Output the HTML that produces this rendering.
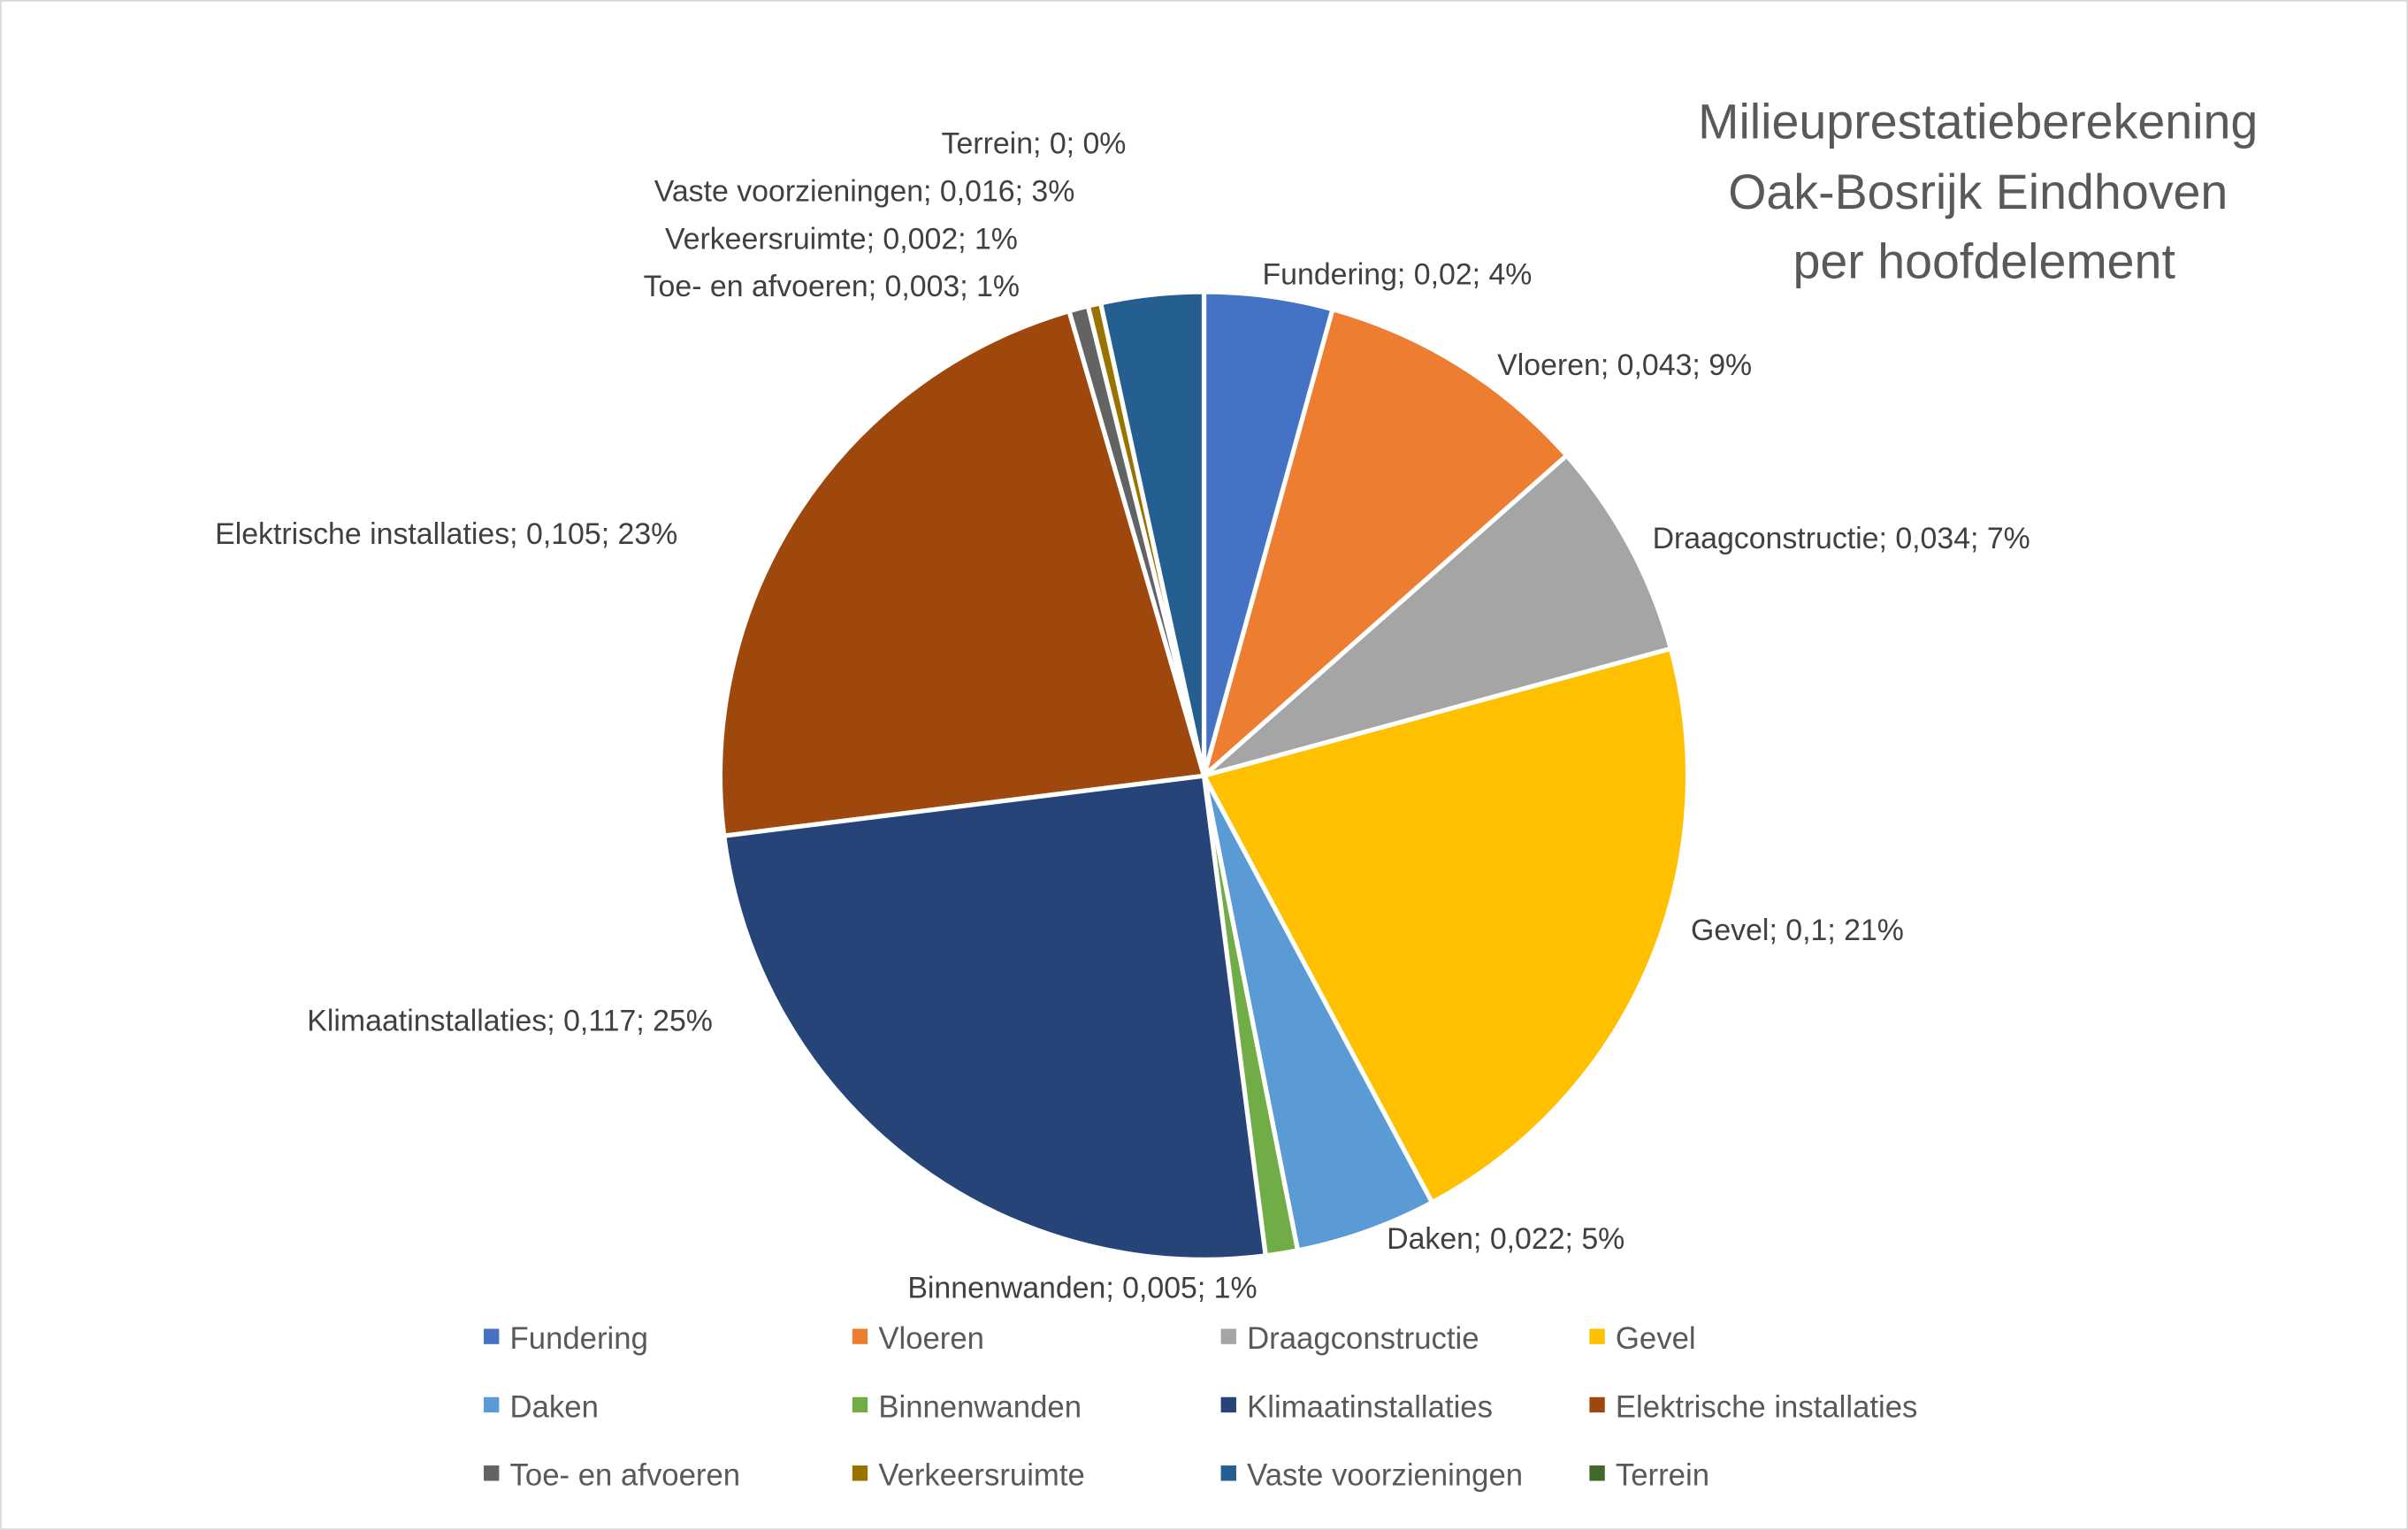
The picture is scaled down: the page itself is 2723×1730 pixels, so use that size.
<!DOCTYPE html>
<html><head><meta charset="utf-8"><style>
html,body{margin:0;padding:0;background:#fff;}
svg{display:block;font-family:"Liberation Sans",sans-serif;}
</style></head><body>
<svg width="2723" height="1730" viewBox="0 0 1568 996" preserveAspectRatio="none" xmlns="http://www.w3.org/2000/svg">
<rect x="0.5" y="0.5" width="1567" height="995" fill="#fff" stroke="#d9d9d9"/>
<g fill="#595959" font-size="32" text-anchor="middle">
<text x="1288" y="90">Milieuprestatieberekening</text>
<text x="1288" y="136">Oak-Bosrijk Eindhoven</text>
<text x="1292" y="181">per hoofdelement</text>
</g>
<g id="slices"></g>
<g id="labels" fill="#404040" font-size="19.5"></g>
<g id="legend" fill="#595959" font-size="20"></g>
</svg>
<script>
const categories=["Fundering","Vloeren","Draagconstructie","Gevel","Daken","Binnenwanden","Klimaatinstallaties","Elektrische installaties","Toe- en afvoeren","Verkeersruimte","Vaste voorzieningen","Terrein"];
const values=[0.02,0.043,0.034,0.1,0.022,0.005,0.117,0.105,0.003,0.002,0.016,0];
const valueLabels=["0,02","0,043","0,034","0,1","0,022","0,005","0,117","0,105","0,003","0,002","0,016","0"];
const percentLabels=["4%","9%","7%","21%","5%","1%","25%","23%","1%","1%","3%","0%"];
const colors=["#4472C4","#ED7D31","#A5A5A5","#FFC000","#5B9BD5","#70AD47","#264478","#9E480E","#636363","#997300","#255E91","#43682B"];
const labelPos=[[822,185],[975,244],[1076,357],[1101,612],[903,813],[591,845],[200,671],[140,354],[419,193],[433,162],[426,131],[613,100]];
const NS="http://www.w3.org/2000/svg";
const cx=784,cy=505,r=315;
const total=values.reduce((a,b)=>a+b,0);
const sg=document.getElementById('slices');
let a=0;
values.forEach((v,i)=>{
  const a2=a+v/total*2*Math.PI;
  if(v>0){
    const x1=cx+r*Math.sin(a),y1=cy-r*Math.cos(a),x2=cx+r*Math.sin(a2),y2=cy-r*Math.cos(a2);
    const p=document.createElementNS(NS,'path');
    p.setAttribute('d',`M${cx},${cy}L${x1},${y1}A${r},${r} 0 ${a2-a>Math.PI?1:0} 1 ${x2},${y2}Z`);
    p.setAttribute('fill',colors[i]);p.setAttribute('stroke','#fff');p.setAttribute('stroke-width','3');
    
    
    sg.appendChild(p);
  }
  a=a2;
});
const lg=document.getElementById('labels');
categories.forEach((c,i)=>{
  const t=document.createElementNS(NS,'text');
  t.setAttribute('x',labelPos[i][0]);t.setAttribute('y',labelPos[i][1]);
  t.textContent=c+'; '+valueLabels[i]+'; '+percentLabels[i];
  
  
  lg.appendChild(t);
});
const leg=document.getElementById('legend');
categories.forEach((c,i)=>{
  const col=i%4,row=Math.floor(i/4);
  const x=315+col*240,y=871+row*44.5;
  const g=document.createElementNS(NS,'g');
  
  
  const m=document.createElementNS(NS,'rect');
  m.setAttribute('x',x);m.setAttribute('y',y-6);m.setAttribute('width',10);m.setAttribute('height',10);m.setAttribute('fill',colors[i]);
  const t=document.createElementNS(NS,'text');
  t.setAttribute('x',x+17);t.setAttribute('y',y+7);t.textContent=c;
  g.appendChild(m);g.appendChild(t);leg.appendChild(g);
});
</script>
</body></html>
